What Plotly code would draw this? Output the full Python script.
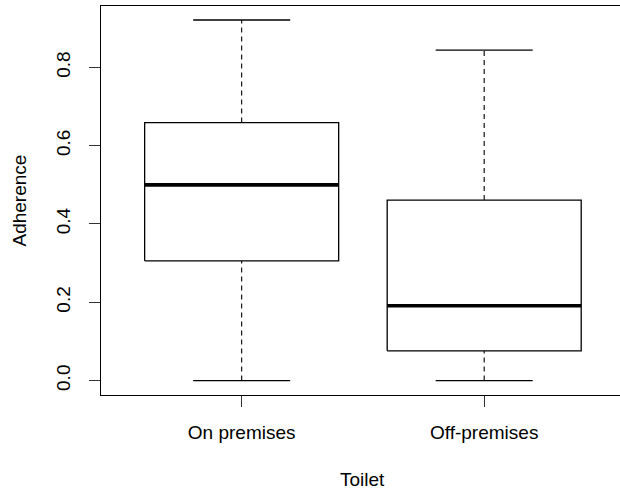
import plotly.graph_objects as go

# Boxplot summary statistics of adherence by toilet location
categories = ["On premises", "Off-premises"]
lower_whisker = [0.0, 0.0]
q1 = [0.306, 0.076]
median = [0.500, 0.191]
q3 = [0.659, 0.461]
upper_whisker = [0.921, 0.844]

y_ticks = [0.0, 0.2, 0.4, 0.6, 0.8]

FONT = "Liberation Sans, Arial, sans-serif"
FONT_SIZE = 19
INK = "#000000"
BOX_HALF = 0.4
CAP_HALF = 0.2

fig = go.Figure()

for i, name in enumerate(categories):
    pos = i + 1
    # dashed whiskers
    for a, b in ((q3[i], upper_whisker[i]), (lower_whisker[i], q1[i])):
        fig.add_trace(go.Scatter(
            x=[pos, pos], y=[a, b], mode="lines",
            line=dict(color=INK, width=1.1, dash="5px,4px"),
            hoverinfo="skip", showlegend=False))
    # whisker caps
    for v in (lower_whisker[i], upper_whisker[i]):
        fig.add_trace(go.Scatter(
            x=[pos - CAP_HALF, pos + CAP_HALF], y=[v, v], mode="lines",
            line=dict(color=INK, width=1.3),
            hoverinfo="skip", showlegend=False))
    # box
    fig.add_trace(go.Scatter(
        x=[pos - BOX_HALF, pos + BOX_HALF, pos + BOX_HALF, pos - BOX_HALF, pos - BOX_HALF],
        y=[q1[i], q1[i], q3[i], q3[i], q1[i]], mode="lines",
        line=dict(color=INK, width=1.3),
        hoverinfo="skip", showlegend=False, name=name))
    # median
    fig.add_trace(go.Scatter(
        x=[pos - BOX_HALF, pos + BOX_HALF], y=[median[i], median[i]], mode="lines",
        line=dict(color=INK, width=3.6),
        hoverinfo="skip", showlegend=False))

fig.update_layout(
    width=620, height=490,
    margin=dict(l=101, r=0, t=6, b=95, pad=0),
    paper_bgcolor="white", plot_bgcolor="white",
    font=dict(family=FONT, size=FONT_SIZE, color=INK),
    showlegend=False,
    xaxis=dict(
        range=[0.42, 2.56], tickmode="array", tickvals=[1, 2], ticktext=categories,
        showgrid=False, zeroline=False, showline=True, mirror=True,
        linecolor=INK, linewidth=1.3,
        ticks="outside", ticklen=11, tickwidth=1, tickcolor="#333",
        ticklabelstandoff=9,
        tickfont=dict(family=FONT, size=FONT_SIZE, color=INK),
    ),
    yaxis=dict(
        range=[-0.0368, 0.9568], tickmode="array", tickvals=y_ticks,
        ticktext=[f"{v:.1f}" for v in y_ticks],
        showgrid=False, zeroline=False, showline=True, mirror=False,
        linecolor=INK, linewidth=1.3,
        ticks="outside", ticklen=11, tickwidth=1, tickcolor="#333",
        tickangle=-90, ticklabelstandoff=11,
        tickfont=dict(family=FONT, size=FONT_SIZE, color=INK),
    ),
    annotations=[
        dict(text="Toilet", xref="x", yref="paper", x=1.5, y=0, yshift=-84,
             showarrow=False, xanchor="center", yanchor="middle",
             font=dict(family=FONT, size=FONT_SIZE, color=INK)),
        dict(text="Adherence", xref="paper", yref="paper", x=0, y=0.5, xshift=-82,
             showarrow=False, xanchor="center", yanchor="middle", textangle=-90,
             font=dict(family=FONT, size=FONT_SIZE, color=INK)),
    ],
)

fig.write_html("out.html")
